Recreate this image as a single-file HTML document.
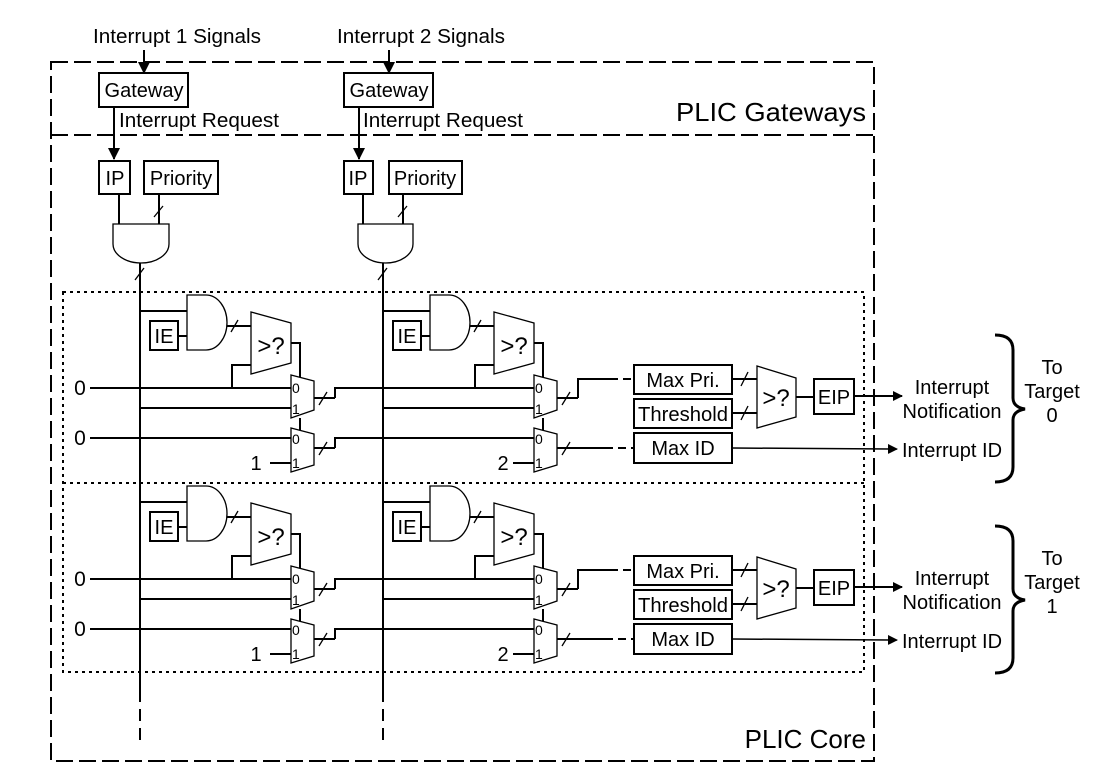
<!DOCTYPE html>
<html><head><meta charset="utf-8"><style>
html,body{margin:0;padding:0;background:#fff;}
svg{display:block;}
text{font-family:"Liberation Sans",Arial,sans-serif;fill:#000;}
</style></head><body>
<svg width="1111" height="784" viewBox="0 0 1111 784" xmlns="http://www.w3.org/2000/svg">
<defs>
<marker id="ah" markerWidth="10" markerHeight="10" refX="9" refY="5" orient="auto" markerUnits="userSpaceOnUse"><path d="M0,0 L10,5 L0,10 Z" fill="#000"/></marker>
<marker id="ahd" markerWidth="12" markerHeight="12" refX="6" refY="11" orient="0" markerUnits="userSpaceOnUse"><path d="M0,0 L12,0 L6,12 Z" fill="#000"/></marker>
<g id="stage1">
 <line x1="0" y1="311" x2="47" y2="311" stroke="#000" stroke-width="2"/>
 <path d="M47,295 H66 A21,27.5 0 0 1 66,350 H47 Z" fill="#fff" stroke="#000" stroke-width="1.3"/>
 <rect x="10" y="321" width="28" height="29" fill="#fff" stroke="#000" stroke-width="2"/>
 <text x="24" y="343" font-size="20" text-anchor="middle">IE</text>
 <line x1="38" y1="336" x2="47" y2="336" stroke="#000" stroke-width="2"/>
 <line x1="87" y1="326" x2="111" y2="326" stroke="#000" stroke-width="2"/>
 <line x1="91" y1="332" x2="98" y2="320" stroke="#000" stroke-width="1.3"/>
 <path d="M111,312 L151,323 L151,363 L111,374 Z" fill="#fff" stroke="#000" stroke-width="1.3"/>
 <text x="131" y="354" font-size="24" text-anchor="middle">&gt;?</text>
 <path d="M151,343 H160 V378 M160,418 V430" fill="none" stroke="#000" stroke-width="2"/>
 <path d="M111,365 H92 V388" fill="none" stroke="#000" stroke-width="2"/>
 <line x1="0" y1="408" x2="151" y2="408" stroke="#000" stroke-width="2"/>
 <line x1="0" y1="388" x2="151" y2="388" stroke="#000" stroke-width="2"/>
 <line x1="0" y1="438" x2="151" y2="438" stroke="#000" stroke-width="2"/>
 <line x1="130" y1="463" x2="151" y2="463" stroke="#000" stroke-width="2"/>
 <path d="M151,375 L174,381 L174,410 L151,418 Z" fill="#fff" stroke="#000" stroke-width="1.3"/>
 <text x="152" y="393" font-size="14" fill="#7a3a10">0</text>
 <text x="152" y="414" font-size="14" fill="#1a1a70">1</text>
 <path d="M151,428 L174,434 L174,465 L151,472 Z" fill="#fff" stroke="#000" stroke-width="1.3"/>
 <text x="152" y="444" font-size="14" fill="#7a3a10">0</text>
 <text x="152" y="468" font-size="14" fill="#1a1a70">1</text>
 <line x1="174" y1="398" x2="195" y2="398" stroke="#000" stroke-width="2"/>
 <line x1="179" y1="405" x2="187" y2="392" stroke="#000" stroke-width="1.3"/>
 <line x1="174" y1="448" x2="195" y2="448" stroke="#000" stroke-width="2"/>
 <line x1="179" y1="455" x2="187" y2="442" stroke="#000" stroke-width="1.3"/>
</g>
<g id="sect">
 <use href="#stage1" x="140"/>
 <use href="#stage1" x="383"/>
 <path d="M335,398 V388 H383 M335,448 V438 H383" fill="none" stroke="#000" stroke-width="2"/>
 <line x1="90" y1="388" x2="140" y2="388" stroke="#000" stroke-width="2"/>
 <line x1="90" y1="438" x2="140" y2="438" stroke="#000" stroke-width="2"/>
 <text x="80" y="395" font-size="21" text-anchor="middle">0</text>
 <text x="80" y="445" font-size="21" text-anchor="middle">0</text>
 <text x="256" y="470" font-size="20" text-anchor="middle">1</text>
 <text x="503" y="470" font-size="20" text-anchor="middle">2</text>
 <path d="M578,398 V379 H610" fill="none" stroke="#000" stroke-width="2"/>
 <line x1="610" y1="379" x2="634" y2="379" stroke="#000" stroke-width="2" stroke-dasharray="8,5"/>
 <line x1="578" y1="448" x2="605" y2="448" stroke="#000" stroke-width="2"/>
 <line x1="605" y1="448" x2="634" y2="448" stroke="#000" stroke-width="2" stroke-dasharray="8,5"/>
 <rect x="634" y="365" width="98" height="29" fill="#fff" stroke="#000" stroke-width="2"/>
 <text x="683" y="387" font-size="20" text-anchor="middle">Max Pri.</text>
 <rect x="634" y="399" width="98" height="29" fill="#fff" stroke="#000" stroke-width="2"/>
 <text x="683" y="421" font-size="20" text-anchor="middle" textLength="90" lengthAdjust="spacingAndGlyphs">Threshold</text>
 <rect x="634" y="433" width="98" height="30" fill="#fff" stroke="#000" stroke-width="2"/>
 <text x="683" y="455" font-size="20" text-anchor="middle">Max ID</text>
 <line x1="732" y1="379" x2="757" y2="379" stroke="#000" stroke-width="2"/>
 <line x1="741" y1="386" x2="748" y2="372" stroke="#000" stroke-width="1.3"/>
 <line x1="732" y1="413" x2="757" y2="413" stroke="#000" stroke-width="2"/>
 <line x1="741" y1="420" x2="748" y2="406" stroke="#000" stroke-width="1.3"/>
 <path d="M757,366 L796,378 L796,417 L757,428 Z" fill="#fff" stroke="#000" stroke-width="1.3"/>
 <text x="776" y="406" font-size="24" text-anchor="middle">&gt;?</text>
 <line x1="796" y1="397" x2="814" y2="397" stroke="#000" stroke-width="2"/>
 <rect x="814" y="379" width="40" height="35" fill="#fff" stroke="#000" stroke-width="2"/>
 <text x="834" y="404" font-size="20" text-anchor="middle">EIP</text>
 <line x1="854" y1="396" x2="902" y2="396" stroke="#000" stroke-width="2" marker-end="url(#ah)"/>
 <line x1="732" y1="448" x2="897" y2="449" stroke="#000" stroke-width="1.5" marker-end="url(#ah)"/>
 <text x="952" y="394" font-size="20" text-anchor="middle">Interrupt</text>
 <text x="952" y="418" font-size="20" text-anchor="middle">Notification</text>
 <text x="952" y="457" font-size="20" text-anchor="middle">Interrupt ID</text>
 <path d="M995,335 Q1013,335 1013,350 V398 Q1013,407 1025,409 Q1013,411 1013,420 V467 Q1013,482 995,482" fill="none" stroke="#000" stroke-width="3"/>
 <text x="1052" y="374" font-size="20" text-anchor="middle">To</text>
 <text x="1052" y="398" font-size="20" text-anchor="middle">Target</text>
</g>
</defs>

<rect x="51" y="62" width="823" height="699" fill="none" stroke="#000" stroke-width="2" stroke-dasharray="17,6"/>
<line x1="51" y1="135" x2="874" y2="135" stroke="#000" stroke-width="2" stroke-dasharray="17,6"/>
<rect x="63" y="292" width="801" height="380" fill="none" stroke="#000" stroke-width="2" stroke-dasharray="3,4"/>
<line x1="63" y1="483" x2="864" y2="483" stroke="#000" stroke-width="2" stroke-dasharray="3,4"/>

<text x="866" y="121" font-size="26" text-anchor="end" textLength="190" lengthAdjust="spacingAndGlyphs">PLIC Gateways</text>
<text x="866" y="748" font-size="26" text-anchor="end">PLIC Core</text>

<g>
 <text x="177" y="43" font-size="20" text-anchor="middle" textLength="168" lengthAdjust="spacingAndGlyphs">Interrupt 1 Signals</text>
 <line x1="144" y1="50" x2="144" y2="73" stroke="#000" stroke-width="2" marker-end="url(#ahd)"/>
 <rect x="99" y="73" width="89" height="34" fill="#fff" stroke="#000" stroke-width="2"/>
 <text x="144" y="97" font-size="20" text-anchor="middle">Gateway</text>
 <line x1="114" y1="107" x2="114" y2="159" stroke="#000" stroke-width="2" marker-end="url(#ahd)"/>
 <text x="119" y="127" font-size="20" textLength="160" lengthAdjust="spacingAndGlyphs">Interrupt Request</text>
 <rect x="99" y="161" width="31" height="33" fill="#fff" stroke="#000" stroke-width="2"/>
 <text x="115" y="185" font-size="20" text-anchor="middle">IP</text>
 <rect x="144" y="161" width="74" height="33" fill="#fff" stroke="#000" stroke-width="2"/>
 <text x="181" y="185" font-size="20" text-anchor="middle">Priority</text>
 <line x1="119" y1="194" x2="119" y2="224" stroke="#000" stroke-width="2"/>
 <line x1="159" y1="194" x2="159" y2="224" stroke="#000" stroke-width="2"/>
 <line x1="154" y1="217" x2="163" y2="206" stroke="#000" stroke-width="1.3"/>
 <path d="M113,224 H169 V244 A28,19 0 0 1 113,244 Z" fill="#fff" stroke="#000" stroke-width="1.3"/>
 <line x1="140" y1="263" x2="140" y2="690" stroke="#000" stroke-width="2"/>
 <line x1="135" y1="280" x2="144" y2="268" stroke="#000" stroke-width="1.3"/>
 <line x1="140" y1="690" x2="140" y2="745" stroke="#000" stroke-width="2" stroke-dasharray="12,7"/>
</g>
<g>
 <text x="421" y="43" font-size="20" text-anchor="middle" textLength="168" lengthAdjust="spacingAndGlyphs">Interrupt 2 Signals</text>
 <line x1="389" y1="50" x2="389" y2="73" stroke="#000" stroke-width="2" marker-end="url(#ahd)"/>
 <rect x="344" y="73" width="89" height="34" fill="#fff" stroke="#000" stroke-width="2"/>
 <text x="389" y="97" font-size="20" text-anchor="middle">Gateway</text>
 <line x1="359" y1="107" x2="359" y2="159" stroke="#000" stroke-width="2" marker-end="url(#ahd)"/>
 <text x="363" y="127" font-size="20" textLength="160" lengthAdjust="spacingAndGlyphs">Interrupt Request</text>
 <rect x="344" y="161" width="29" height="33" fill="#fff" stroke="#000" stroke-width="2"/>
 <text x="358" y="185" font-size="20" text-anchor="middle">IP</text>
 <rect x="389" y="161" width="73" height="33" fill="#fff" stroke="#000" stroke-width="2"/>
 <text x="425" y="185" font-size="20" text-anchor="middle">Priority</text>
 <line x1="363" y1="194" x2="363" y2="224" stroke="#000" stroke-width="2"/>
 <line x1="403" y1="194" x2="403" y2="224" stroke="#000" stroke-width="2"/>
 <line x1="398" y1="217" x2="407" y2="206" stroke="#000" stroke-width="1.3"/>
 <path d="M358,224 H413 V244 A27.5,19 0 0 1 358,244 Z" fill="#fff" stroke="#000" stroke-width="1.3"/>
 <line x1="383" y1="263" x2="383" y2="690" stroke="#000" stroke-width="2"/>
 <line x1="378" y1="280" x2="387" y2="268" stroke="#000" stroke-width="1.3"/>
 <line x1="383" y1="690" x2="383" y2="745" stroke="#000" stroke-width="2" stroke-dasharray="12,7"/>
</g>

<use href="#sect"/>
<text x="1052" y="422" font-size="20" text-anchor="middle">0</text>
<use href="#sect" y="191"/>
<text x="1052" y="613" font-size="20" text-anchor="middle">1</text>
</svg>
</body></html>
